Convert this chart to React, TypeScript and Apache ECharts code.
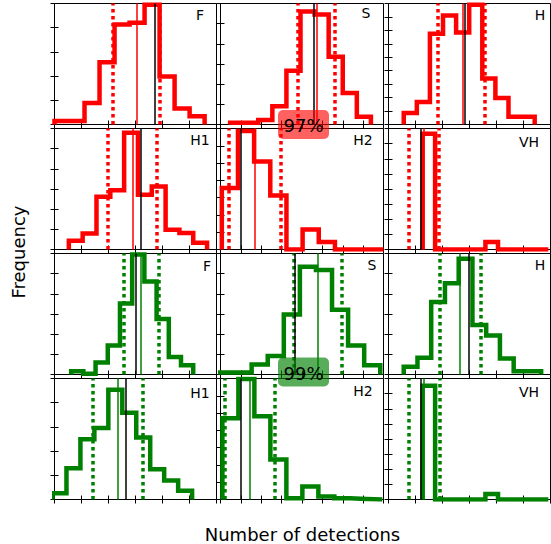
import React, { useEffect, useRef } from "react";
import * as echarts from "echarts";

const RED = "#ff0000";
const GREEN = "#008000";

// panel order: row by row, 3 columns
const panelNames = ["F", "S", "H", "H1", "H2", "VH", "F", "S", "H", "H1", "H2", "VH"];
const panelColors = [RED, RED, RED, RED, RED, RED, GREEN, GREEN, GREEN, GREEN, GREEN, GREEN];

// x axis ranges (tick every 10) and y axis ranges (tick every 10)
const xMaxes = [60, 80, 60, 60, 80, 60, 60, 80, 60, 60, 80, 60];
const yMaxes = [50, 60, 90, 60, 70, 80, 60, 60, 60, 50, 70, 80];

// histogram bins
const binStarts = [0, 4.72, 5.64, 5.31, 0.65, 12.6, 6.17, -0.49, 5.64, -0.74, 0.93, 12.6];
const binWidths = [5.56, 6.91, 4.85, 5.12, 7.93, 4.66, 4.52, 7.89, 5.09, 5.17, 7.85, 4.66];

const redF = [1.4, 1.4, 8.9, 25.7, 41.3, 42, 49.5, 19.8, 6.6, 3.4];
const redS = [0.9, 0.9, 2.2, 9, 26.6, 56, 54.6, 33.6, 15.6, 3.8];
const redH = [8.6, 16.7, 67.5, 81, 68.4, 89, 34.2, 19.8, 5.7, 5.7];
const redH1 = [4.3, 7.9, 26.2, 29.4, 57.9, 27.2, 31.2, 9.8, 8.2, 3.3];
const redH2 = [35.6, 68.5, 50.9, 31.2, 0, 11.5, 4.4, 0, 0, 0];
const redVH = [76.5, 0, 0, 0, 0, 5, 0, 0, 0, 0];
const greenF = [1.6, 0.4, 5.9, 14.4, 35.2, 59.5, 46.1, 27.5, 8.7, 4.6];
const greenS = [1, 1, 4.9, 9.2, 29.7, 53.4, 51.8, 32.1, 14.4, 4.6];
const greenH = [3.8, 8.3, 36, 45.2, 57.4, 24.6, 19.3, 7.9, 1.6, 1.6];
const greenH1 = [2.6, 12.9, 24.9, 29.5, 45.4, 35.8, 25.6, 12.5, 7.8, 3.6];
const greenH2 = [47, 69.7, 48.2, 23.1, 0.7, 7.5, 1.75, 0.7, 0.35, 0];
const greenVH = [75.2, 0, 0, 0, 0, 3.7, 0, 0, 0, 0];
const panelCounts = [redF, redS, redH, redH1, redH2, redVH, greenF, greenS, greenH, greenH1, greenH2, greenVH];

// vertical reference lines
const lowerBounds = [21.6, 37.7, 18.3, 19.75, 4.2, 7.5, 25.7, 36.1, 18.8, 14.3, 2.3, 7.5];
const medians = [30.4, 47.2, 27.4, 29.0, 16.9, 12.9, 32.1, 47.5, 26.5, 23.6, 14.5, 13.0];
const trueValues = [37.3, 45.7, 28.3, 31.85, 10.1, 11.8, 30.0, 36.4, 29.9, 26.4, 10.1, 11.8];
const upperBounds = [39.0, 56.3, 35.7, 38.0, 29.6, 18.5, 38.6, 59.5, 34.2, 32.7, 26.7, 18.8];

const badgeTexts = ["97%", "99%"];

// layout (pixels)
const COL_LEFT = [54.5, 220.5, 388.5];
const COL_WIDTH = [162, 163, 162];
const ROW_TOP = [3.5, 128.5, 253.5, 378.5];
const ROW_HEIGHT = 121;
const LABEL_POS: [number, number][] = [
  [200, 15], [366, 13], [540, 15],
  [200, 140], [363, 140], [529, 142],
  [207, 266], [372, 265], [540, 265],
  [200, 393], [363, 391], [529, 391.5],
];
const FONT = '"DejaVu Sans", sans-serif';

function stepPoints(start: number, width: number, counts: number[]) {
  const pts: number[][] = [[start, 0]];
  counts.forEach((c, k) => {
    pts.push([start + k * width, c]);
    pts.push([start + (k + 1) * width, c]);
  });
  pts.push([start + counts.length * width, 0]);
  return pts;
}

function buildOption() {
  const grid: any[] = [];
  const xAxis: any[] = [];
  const yAxis: any[] = [];
  const series: any[] = [];
  const graphic: any[] = [];
  const tick = { show: true, inside: true, length: 4, lineStyle: { color: "#000", width: 1 } };

  for (let i = 0; i < 12; i++) {
    const r = Math.floor(i / 3);
    const c = i % 3;
    const color = panelColors[i];
    grid.push({
      left: COL_LEFT[c], top: ROW_TOP[r], width: COL_WIDTH[c], height: ROW_HEIGHT,
      show: true, borderColor: "#000", borderWidth: 1, backgroundColor: "transparent",
    });
    const xa = {
      type: "value", gridIndex: i, min: 0, max: xMaxes[i], interval: 10,
      axisLine: { show: false }, axisLabel: { show: false }, splitLine: { show: false }, axisTick: tick,
    };
    xAxis.push({ ...xa, position: "bottom" }, { ...xa, position: "top" });
    const ya = {
      type: "value", gridIndex: i, min: 0, max: yMaxes[i], interval: 10,
      axisLine: { show: false }, axisLabel: { show: false }, splitLine: { show: false }, axisTick: tick,
    };
    yAxis.push({ ...ya, position: "left" }, { ...ya, position: "right" });

    series.push({
      type: "line", xAxisIndex: 2 * i, yAxisIndex: 2 * i, z: 2,
      data: stepPoints(binStarts[i], binWidths[i], panelCounts[i]),
      symbol: "none", silent: true,
      lineStyle: { color, width: 4.5, join: "miter", cap: "butt" },
    });
    series.push({
      type: "line", xAxisIndex: 2 * i, yAxisIndex: 2 * i, z: 3, data: [],
      markLine: {
        symbol: ["none", "none"], silent: true, label: { show: false }, animation: false,
        data: [
          { xAxis: lowerBounds[i], lineStyle: { color, width: 3.5, type: [3.5, 3.5], cap: "butt" } },
          { xAxis: upperBounds[i], lineStyle: { color, width: 3.5, type: [3.5, 3.5], cap: "butt" } },
          { xAxis: medians[i], lineStyle: { color, width: 1.5, type: "solid" } },
          { xAxis: trueValues[i], lineStyle: { color: "#000", width: 1.5, type: "solid" } },
        ],
      },
    });

    graphic.push({
      type: "text", x: LABEL_POS[i][0], y: LABEL_POS[i][1], z: 50,
      style: {
        text: panelNames[i], font: `14px ${FONT}`, fill: "#000",
        textAlign: "center", textVerticalAlign: "middle", align: "center", verticalAlign: "middle",
      },
    });
  }

  const badges = [
    { text: badgeTexts[0], fill: "rgba(255,0,0,0.62)", cy: 124.5 },
    { text: badgeTexts[1], fill: "rgba(0,128,0,0.65)", cy: 372 },
  ];
  badges.forEach((b) => {
    graphic.push({
      type: "rect", z: 100,
      shape: { x: 278, y: b.cy - 14.5, width: 51, height: 29, r: 5 },
      style: { fill: b.fill, stroke: "none" },
    });
    graphic.push({
      type: "text", x: 303.5, y: b.cy + 1, z: 101,
      style: {
        text: b.text, font: `18px ${FONT}`, fill: "#000",
        textAlign: "center", textVerticalAlign: "middle", align: "center", verticalAlign: "middle",
      },
    });
  });

  graphic.push({
    type: "text", x: 18, y: 252, rotation: Math.PI / 2, z: 50,
    style: {
      text: "Frequency", font: `18px ${FONT}`, fill: "#000",
      textAlign: "center", textVerticalAlign: "middle", align: "center", verticalAlign: "middle",
    },
  });
  graphic.push({
    type: "text", x: 302.5, y: 534, z: 50,
    style: {
      text: "Number of detections", font: `18px ${FONT}`, fill: "#000",
      textAlign: "center", textVerticalAlign: "middle", align: "center", verticalAlign: "middle",
    },
  });

  return { animation: false, backgroundColor: "#fff", grid, xAxis, yAxis, series, graphic };
}

export default function App() {
  const ref = useRef<HTMLDivElement>(null);
  useEffect(() => {
    const chart = echarts.init(ref.current!, null, { renderer: "svg" });
    chart.setOption(buildOption() as any);
    return () => chart.dispose();
  }, []);
  return (
    <div
      ref={ref}
      style={{ position: "absolute", left: 0, top: 0, width: 551, height: 544, background: "#fff" }}
    />
  );
}
